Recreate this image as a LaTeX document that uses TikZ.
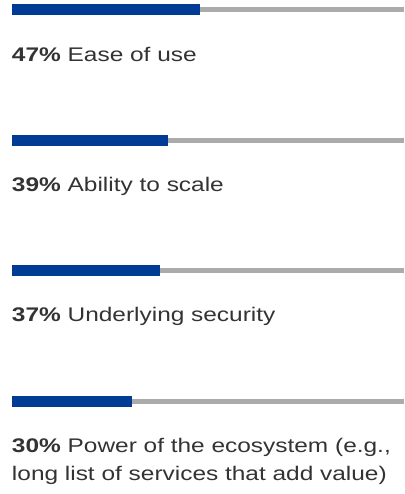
\documentclass[tikz,border=0pt]{standalone}
\usepackage{fontspec}
\setmainfont[FakeStretch=1.24]{Liberation Sans}
\definecolor{barblue}{HTML}{003B95}
\definecolor{bargray}{HTML}{ABABAB}
\definecolor{txt}{HTML}{333333}
\begin{document}
\begin{tikzpicture}[x=1pt,y=-1pt,
  lbl/.style={anchor=base west,inner sep=0pt,outer sep=0pt,text=txt,font=\fontsize{19.7}{27.7}\selectfont},
  bluebar/.style={fill=barblue},
  graybar/.style={fill=bargray}]
\useasboundingbox (0,0) rectangle (404,494);
% bar 1
\fill[graybar] (200,6.8) rectangle (404,12.3);
\fill[bluebar] (12,4) rectangle (200,14.7);
\node[lbl] (t1) at (12,61.7) {\textbf{47\%} Ease of use};
% bar 2
\fill[graybar] (167.7,137.8) rectangle (404,143.2);
\fill[bluebar] (12,135) rectangle (167.7,145.7);
\node[lbl] (t2) at (12,191.7) {\textbf{39\%} Ability to scale};
% bar 3
\fill[graybar] (160,267.8) rectangle (404,273.2);
\fill[bluebar] (12,265) rectangle (160,275.7);
\node[lbl] (t3) at (12,321.7) {\textbf{37\%} Underlying security};
% bar 4
\fill[graybar] (132,398.6) rectangle (404,404);
\fill[bluebar] (12,396) rectangle (132,406.7);
\node[lbl] (t4a) at (12,452.5) {\textbf{30\%} Power of the ecosystem (e.g.,};
\node[lbl] (t4b) at (12,480.2) {long list of services that add value)};
\end{tikzpicture}
\end{document}
